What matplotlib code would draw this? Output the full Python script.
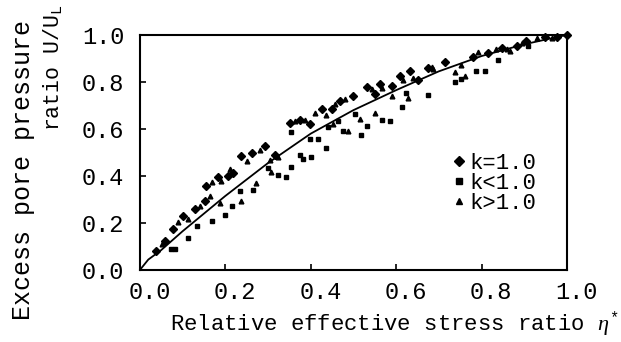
import matplotlib
matplotlib.use("Agg")
import matplotlib.pyplot as plt
import matplotlib.transforms as mtransforms

# fitted curve
curve_x = [0.0, 0.02, 0.05, 0.1, 0.2, 0.3, 0.4, 0.5, 0.6, 0.7, 0.8, 0.9, 1.0]
curve_y = [0.0, 0.045, 0.085, 0.165, 0.315, 0.455, 0.58, 0.68, 0.765, 0.845, 0.91, 0.96, 1.0]

# k = 1.0
k1_x = [0.039, 0.059, 0.078, 0.101, 0.129, 0.152, 0.156, 0.183, 0.207, 0.219,
        0.238, 0.262, 0.293, 0.316, 0.351, 0.375, 0.398, 0.426, 0.449, 0.468,
        0.500, 0.531, 0.550, 0.562, 0.590, 0.609, 0.632, 0.652, 0.675, 0.714,
        0.781, 0.816, 0.847, 0.882, 0.905, 0.949, 0.976, 1.0]
k1_y = [0.083, 0.126, 0.175, 0.232, 0.259, 0.294, 0.359, 0.394, 0.400, 0.414,
        0.485, 0.499, 0.526, 0.490, 0.625, 0.638, 0.623, 0.687, 0.686, 0.721,
        0.742, 0.777, 0.747, 0.790, 0.782, 0.824, 0.845, 0.808, 0.858, 0.885,
        0.905, 0.925, 0.946, 0.952, 0.973, 0.993, 0.990, 1.0]

# k < 1.0
klt_x = [0.074, 0.082, 0.113, 0.133, 0.168, 0.199, 0.215, 0.234, 0.265, 0.301,
         0.324, 0.343, 0.355, 0.375, 0.382, 0.402, 0.437, 0.355, 0.398, 0.418,
         0.441, 0.465, 0.476, 0.504, 0.519, 0.531, 0.566, 0.585, 0.613, 0.624,
         0.675, 0.738, 0.753, 0.788, 0.808, 0.839, 0.909]
klt_y = [0.089, 0.090, 0.138, 0.188, 0.208, 0.236, 0.271, 0.335, 0.341, 0.433,
         0.403, 0.396, 0.439, 0.488, 0.473, 0.483, 0.519, 0.589, 0.559, 0.558,
         0.608, 0.635, 0.592, 0.663, 0.576, 0.612, 0.640, 0.632, 0.695, 0.752,
         0.743, 0.799, 0.813, 0.847, 0.847, 0.892, 0.951]

# k > 1.0
kgt_x = [0.051, 0.090, 0.113, 0.141, 0.164, 0.168, 0.191, 0.211, 0.238, 0.250,
         0.281, 0.304, 0.324, 0.363, 0.386, 0.410, 0.437, 0.457, 0.480, 0.453,
         0.488, 0.515, 0.543, 0.566, 0.550, 0.590, 0.617, 0.640, 0.628, 0.683,
         0.687, 0.738, 0.753, 0.761, 0.792, 0.835, 0.859, 0.866, 0.894, 0.929,
         0.964, 0.187, 0.273, 0.308]
kgt_y = [0.111, 0.203, 0.217, 0.273, 0.315, 0.373, 0.379, 0.428, 0.292, 0.463,
         0.512, 0.469, 0.482, 0.632, 0.637, 0.666, 0.658, 0.707, 0.728, 0.622,
         0.592, 0.641, 0.769, 0.776, 0.669, 0.739, 0.809, 0.816, 0.731, 0.865,
         0.857, 0.842, 0.870, 0.827, 0.926, 0.939, 0.938, 0.931, 0.966, 0.986,
         0.986, 0.286, 0.370, 0.418]

ticks = [0.0, 0.2, 0.4, 0.6, 0.8, 1.0]
tick_labels = ["0.0", "0.2", "0.4", "0.6", "0.8", "1.0"]

plt.rcParams['font.family'] = ['Liberation Mono', 'DejaVu Sans']
plt.rcParams['mathtext.fontset'] = 'custom'
plt.rcParams['mathtext.rm'] = 'Liberation Mono'
plt.rcParams['mathtext.it'] = 'Liberation Serif:italic'

fig = plt.figure(figsize=(6.21, 3.42), dpi=100)
ax = fig.add_axes([0.225, 0.21, 0.688, 0.688])

ax.plot(curve_x, curve_y, color='black', lw=1.3)
ax.plot(k1_x, k1_y, 'D', color='black', ms=4.2, clip_on=False, label='k=1.0')
ax.plot(klt_x, klt_y, 's', color='black', ms=3.4, clip_on=False, label='k<1.0')
ax.plot(kgt_x, kgt_y, '^', color='black', ms=3.4, clip_on=False, label='k>1.0')

ax.set_xlim(0, 1)
ax.set_ylim(0, 1)
ax.set_xticks(ticks)
ax.set_xticklabels(tick_labels)
ax.set_yticks(ticks)
ax.set_yticklabels(tick_labels)
ax.tick_params(direction='in', length=4, width=1.2, labelsize=17, pad=8)
ax.tick_params(axis='y', pad=11)
for side in ax.spines.values():
    side.set_linewidth(1.5)

# x tick labels sit a little right of their ticks in the original
shift = mtransforms.ScaledTranslation(7 / 72, 0, fig.dpi_scale_trans)
for lab in ax.get_xticklabels():
    lab.set_transform(lab.get_transform() + shift)

ax.set_xlabel(r"Relative effective stress ratio $\eta^{*}$", fontsize=16, labelpad=2)
ax.xaxis.set_label_coords(0.595, -0.165)

fig.text(23 / 621, 1 - 170 / 342, "Excess pore pressure", rotation=90,
         ha='center', va='center', fontsize=18)
fig.text(52 / 621, 1 - 68 / 342, r"ratio U/U$_\mathrm{L}$", rotation=90,
         ha='center', va='center', fontsize=15.5)

ax.legend(loc='upper left', bbox_to_anchor=(0.712, 0.545), frameon=False,
          fontsize=16, handlelength=0.4, handletextpad=0.25,
          labelspacing=-0.05, borderpad=0, markerscale=1.1)

fig.savefig("out.png", dpi=100)
